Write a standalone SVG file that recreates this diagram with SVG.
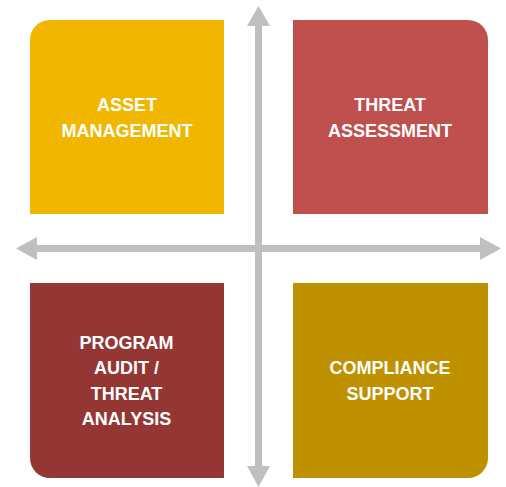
<svg xmlns="http://www.w3.org/2000/svg" width="506" height="487" viewBox="0 0 506 487">
<style>
.lbl{font-family:"Liberation Sans",Arial,sans-serif;font-weight:bold;font-size:18px;fill:#ffffff;text-anchor:middle}
.ax{fill:#bfbfbf}
</style>
<rect width="506" height="487" fill="#ffffff"/>
<g id="connectors">
<rect class="ax" x="255" y="24" width="7" height="444"/>
<polygon class="ax" points="258.5,6 270,26 247,26"/>
<polygon class="ax" points="258.5,487 270,466 247,466"/>
<rect class="ax" x="34" y="245" width="450" height="7"/>
<polygon class="ax" points="16,248.5 37,237 37,260"/>
<polygon class="ax" points="501,248.5 480,237 480,260"/>
</g>
<g id="asset-management">
<path d="M30,214 V40 A20,20 0 0 1 50,20 H224 V214 Z" fill="#f1b700"/>
<text class="lbl" x="127" y="111">ASSET</text>
<text class="lbl" x="127" y="136.5">MANAGEMENT</text>
</g>
<g id="threat-assessment">
<path d="M293,20 H468 A20,20 0 0 1 488,40 V214 H293 Z" fill="#c0504d"/>
<text class="lbl" x="390" y="111">THREAT</text>
<text class="lbl" x="390" y="136.5">ASSESSMENT</text>
</g>
<g id="program-audit">
<path d="M30,283 H224 V478 H50 A20,20 0 0 1 30,458 Z" fill="#943634"/>
<text class="lbl" x="126.5" y="348.5">PROGRAM</text>
<text class="lbl" x="126.5" y="374">AUDIT /</text>
<text class="lbl" x="126.5" y="399.5">THREAT</text>
<text class="lbl" x="126.5" y="424.5">ANALYSIS</text>
</g>
<g id="compliance-support">
<path d="M293,283 H488 V458 A20,20 0 0 1 468,478 H293 Z" fill="#bf9000"/>
<text class="lbl" x="390" y="374">COMPLIANCE</text>
<text class="lbl" x="390" y="399.5">SUPPORT</text>
</g>
</svg>
